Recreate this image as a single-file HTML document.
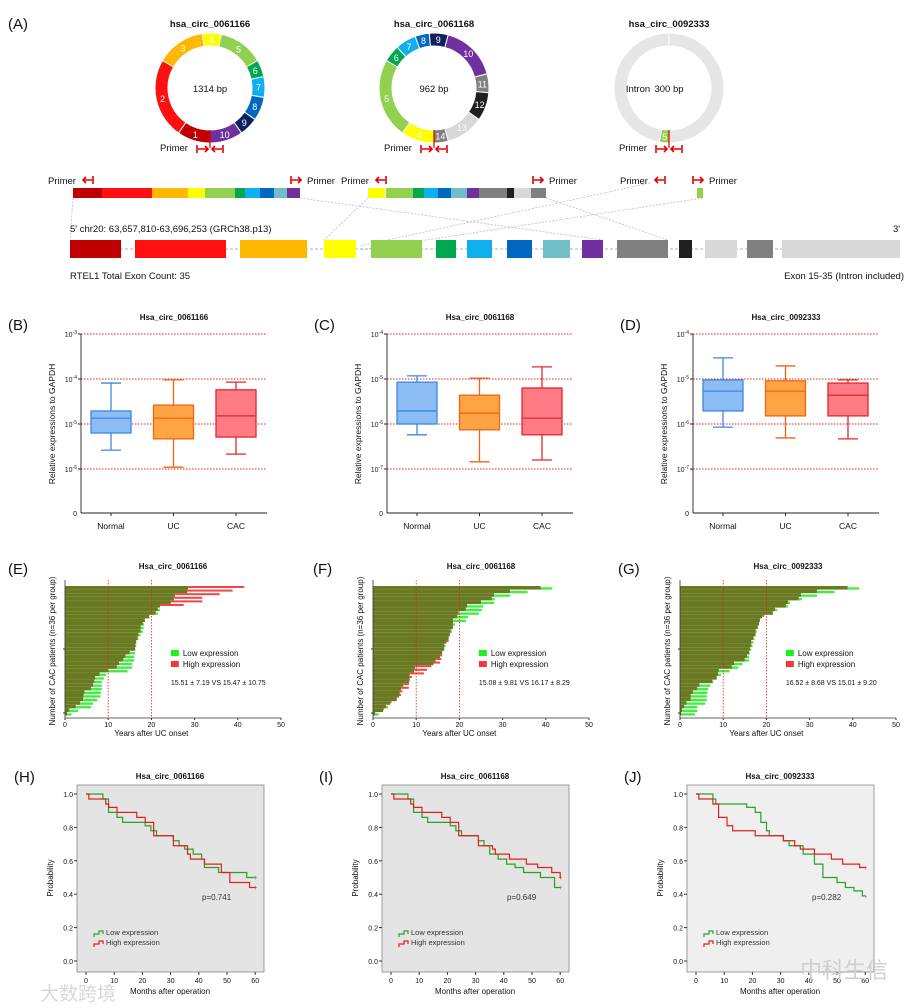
<!DOCTYPE html>
<html><head><meta charset="utf-8"><style>
body{margin:0;background:#fff;}
svg{display:block;font-family:"Liberation Sans","Noto Sans CJK SC",sans-serif;}
</style></head><body>
<svg id="fig" width="916" height="1008" viewBox="0 0 916 1008" xmlns="http://www.w3.org/2000/svg"></svg>
<script>
// ---------- Panel B-D data (log10 values: whiskerHigh, Q3, median, Q1, whiskerLow) ----------
const boxCategories = ["Normal","UC","CAC"];
const boxTitles = ["Hsa_circ_0061166","Hsa_circ_0061168","Hsa_circ_0092333"];
const boxTopExp = [-3,-4,-4];
const boxB_Normal = [-4.09,-4.71,-4.87,-5.2,-5.58];
const boxB_UC = [-4.02,-4.58,-4.87,-5.33,-5.96];
const boxB_CAC = [-4.07,-4.24,-4.82,-5.29,-5.67];
const boxC_Normal = [-4.93,-5.07,-5.71,-6.0,-6.24];
const boxC_UC = [-4.98,-5.36,-5.76,-6.13,-6.84];
const boxC_CAC = [-4.73,-5.2,-5.87,-6.24,-6.8];
const boxD_Normal = [-4.53,-5.02,-5.27,-5.71,-6.07];
const boxD_UC = [-4.71,-5.04,-5.27,-5.82,-6.31];
const boxD_CAC = [-5.02,-5.09,-5.36,-5.82,-6.33];
// ---------- Panel E-G data (years, sorted) ----------
const barXTicks = [0,10,20,30,40,50];
const eLow = [28.5,28.3,25.5,25.2,24.5,22,22,21.5,19.5,18.5,18.3,18.2,18,17.5,17,16.5,16.5,16.3,16.2,16,16,15.5,15.5,14.5,9.5,9,8.5,8.5,8.5,8.3,8.2,7.5,6.5,6,3,1.5];
const eHigh = [41.5,38.8,35.8,31.8,31.8,27.5,21.5,21,19.5,18.5,18,17.5,17.5,17,16.8,16.5,16.3,16.2,15,14,13.5,12.5,12,10,8,7,6.8,6.5,6,4.5,4.3,4.2,3.5,2.5,1,0.5];
const fLow = [41.5,35.8,31.7,28.2,28,25.5,25.2,24.5,22,21.5,19,18.5,18.3,17.8,17.5,17,16.8,16.5,16,15.5,14.5,14,9.7,9.5,8.5,8.5,8.3,7,6.5,6.2,6,5.5,4,3.5,2.3,1.3];
const fHigh = [38.8,31.7,28,27.5,25,21.8,21.5,19.8,19.5,18.5,18.5,18.5,18,17.8,17.5,17.5,16.5,16.5,16,16,15.8,15.5,13.5,12.5,11.8,9,8.5,8.3,8.3,6.8,6.5,5.5,4.3,3,2.5,0.5];
const gLow = [41.5,35.8,31.7,28.2,25.5,25,22.5,21.5,19,18.5,18.3,18,17.8,17.5,17.2,17,16.8,16.5,16.2,16,16,14.5,13.5,11.5,9.5,8.5,7.7,7,6.5,6.3,6.2,6.2,5.8,4,4,3.5];
const gHigh = [38.8,31.7,28,27.5,25,24.5,22,21.5,19.5,18.5,18.3,18,17.5,17.5,17,16.5,16.5,16.2,16,15.5,15,12.5,12,9,8.8,8.5,7.5,4.5,4,3,2.5,2.5,1.5,1,0.5,0.3];
const barStats = ["15.51 ± 7.19 VS 15.47 ± 10.75","15.08 ± 9.81 VS 16.17 ± 8.29","16.52 ± 8.68 VS 15.01 ± 9.20"];
// ---------- Panel H-J data (Kaplan-Meier steps) ----------
const kmXTicks = [0,10,20,30,40,50,60];
const kmYTicks = [0,0.2,0.4,0.6,0.8,1.0];
const hLowT = [0,6,8,11,13,21,23,25,31,33,35,38,41,42,47,57,60];
const hLowS = [1,0.97,0.89,0.86,0.83,0.81,0.78,0.75,0.72,0.69,0.67,0.64,0.61,0.56,0.53,0.5,0.5];
const hHighT = [0,1,7,8,11,18,21,24,31,36,37,42,48,51,58,60];
const hHighS = [1,0.97,0.94,0.92,0.89,0.86,0.83,0.75,0.69,0.64,0.61,0.58,0.53,0.47,0.44,0.44];
const iLowT = [0,6,8,11,13,21,23,25,31,33,35,38,41,44,47,53,58,60];
const iLowS = [1,0.97,0.89,0.86,0.83,0.81,0.78,0.75,0.72,0.69,0.64,0.61,0.58,0.56,0.53,0.5,0.44,0.44];
const iHighT = [0,1,7,8,11,18,21,24,31,36,37,42,48,52,57,60];
const iHighS = [1,0.97,0.94,0.92,0.89,0.86,0.83,0.75,0.69,0.67,0.64,0.61,0.58,0.56,0.53,0.5];
const jLowT = [0,6,7,18,21,23,25,26,31,33,38,42,45,50,53,56,59,60];
const jLowS = [1,0.97,0.94,0.92,0.89,0.83,0.78,0.75,0.72,0.69,0.64,0.58,0.5,0.47,0.44,0.42,0.39,0.39];
const jHighT = [0,1,6,8,11,13,21,31,35,37,42,48,52,58,60];
const jHighS = [1,0.97,0.94,0.86,0.81,0.78,0.75,0.72,0.69,0.67,0.64,0.61,0.58,0.56,0.56];
const kmP = ["p=0.741","p=0.649","p=0.282"];

const NS="http://www.w3.org/2000/svg";
const svg=document.getElementById('fig');
function add(parent,tag,attrs,name,inter){
  const el=document.createElementNS(NS,tag);
  for(const k in attrs) el.setAttribute(k,attrs[k]);
  
  
  parent.appendChild(el);return el;
}
function txt(parent,x,y,s,size,name,extra){
  const a=Object.assign({x:x,y:y,'font-size':size,fill:'#111'},extra||{});
  const t=add(parent,'text',a,name);t.textContent=s;return t;
}
// ---------- Panel A ----------
txt(svg,8,29,"(A)",15,"panel-label-a");
const C={dr:'#c00000',r:'#ff1010',o:'#ffb800',y:'#ffff00',g:'#92d050',dg:'#00a850',sk:'#10b0f0',b:'#0068c0',nv:'#102060',pu:'#7030a0',gr:'#808080',bk:'#202020',lg:'#d8d8d8',tl:'#70bec8',xl:'#e6e6e6'};
function arc(cx,cy,R,r,a1,a2){
  const p=(a,rad)=>[cx+rad*Math.sin(a*Math.PI/180),cy-rad*Math.cos(a*Math.PI/180)];
  const L=(a2-a1)>180?1:0;
  const [x1,y1]=p(a1,R),[x2,y2]=p(a2,R),[x3,y3]=p(a2,r),[x4,y4]=p(a1,r);
  return `M${x1},${y1}A${R},${R} 0 ${L} 1 ${x2},${y2}L${x3},${y3}A${r},${r} 0 ${L} 0 ${x4},${y4}Z`;
}
const rings=[
 {cx:210,cy:88,title:"hsa_circ_0061166",center:"1314 bp",segs:[[-8,12,'y','4'],[12,60,'g','5'],[60,78,'dg','6'],[78,100,'sk','7'],[100,125,'b','8'],[125,145,'nv','9'],[145,180,'pu','10'],[180,215,'dr','1'],[215,300,'r','2'],[300,352,'o','3']]},
 {cx:434,cy:88,title:"hsa_circ_0061168",center:"962 bp",segs:[[-5,15,'nv','9'],[15,75,'pu','10'],[75,95,'gr','11'],[95,125,'bk','12'],[125,165,'lg','13'],[165,180,'gr','14'],[180,215,'y','4'],[215,300,'g','5'],[300,318,'dg','6'],[318,340,'sk','7'],[340,355,'b','8']]},
 {cx:669,cy:88,title:"hsa_circ_0092333",center:"300 bp",segs:[[0,180,'xl',''],[190,360,'xl',''],[180,190,'g','5']]}
];
rings.forEach((R,i)=>{
  const g=add(svg,'g',{},'circrna-diagram-'+(i+1));
  txt(g,R.cx,27,R.title,9.5,'circrna-title',{'text-anchor':'middle','font-weight':'bold'});
  R.segs.forEach(s=>{
    add(g,'path',{d:arc(R.cx,R.cy,55,42,s[0],s[1]),fill:C[s[2]],stroke:'#fff','stroke-width':1},'exon-segment-'+(s[3]||'intron'));
    if(s[3]){const m=(s[0]+s[1])/2*Math.PI/180;
      txt(g,R.cx+48.5*Math.sin(m),R.cy-48.5*Math.cos(m)+3.5,s[3],9,'exon-number',{'text-anchor':'middle',fill:'#fff'});}
  });
  txt(g,R.cx,R.cy+4,R.center,9.5,'circrna-length',{'text-anchor':'middle'});
  if(i==2) txt(g,R.cx-31,R.cy+4,"Intron",9.5,'intron-label',{'text-anchor':'middle'});
  add(g,'line',{x1:R.cx,y1:130,x2:R.cx,y2:148,stroke:'#e00000','stroke-width':1.2},'junction-line');
  txt(g,R.cx-50,151,"Primer",9.5,'primer-label');
  add(g,'path',{d:`M${R.cx-13},145v8M${R.cx-12},149h10m-3,-3l3,3l-3,3M${R.cx+13},145v8M${R.cx+12},149h-10m3,-3l-3,3l3,3`,stroke:'#e00000','stroke-width':1.6,fill:'none'},'primer-arrows');
});
// linear transcripts
const linBars=[
 [[73,102,'dr'],[102,152,'r'],[152,188,'o'],[188,205,'y'],[205,235,'g'],[235,245,'dg'],[245,260,'sk'],[260,274,'b'],[274,287,'tl'],[287,300,'pu']],
 [[368,385,'y'],[386,413,'g'],[413,424,'dg'],[424,438,'sk'],[438,451,'b'],[451,467,'tl'],[467,479,'pu'],[479,507,'gr'],[507,514,'bk'],[514,531,'lg'],[531,546,'gr']],
 [[697,703,'g']]
];
const conn=[[73,198,70,240],[300,198,603,240],[368,198,324,240],[546,198,668,240],[650,183,360,246],[703,198,360,250]];
conn.forEach(c=>add(svg,'line',{x1:c[0],y1:c[1],x2:c[2],y2:c[3],stroke:'#b8b8e8','stroke-width':0.8,'stroke-dasharray':'2,1.5'},'connector-line'));
linBars.forEach((b,i)=>{b.forEach(s=>add(svg,'rect',{x:s[0],y:188,width:s[1]-s[0],height:10,fill:C[s[2]]},'linear-exon'));});
const primers=[[48,"L"],[307,"R"],[341,"L"],[549,"R"],[620,"L"],[709,"R"]];
primers.forEach(p=>{
  if(p[1]=="L"){txt(svg,p[0],184,"Primer",9.5,'primer-label');
    add(svg,'path',{d:`M${p[0]+45},176v8M${p[0]+44},180h-9m3,-3l-3,3l3,3`,stroke:'#e00000','stroke-width':1.6,fill:'none'},'primer-arrow');}
  else{txt(svg,p[0],184,"Primer",9.5,'primer-label');
    add(svg,'path',{d:`M${p[0]-16},176v8M${p[0]-15},180h9m-3,-3l3,3l-3,3`,stroke:'#e00000','stroke-width':1.6,fill:'none'},'primer-arrow');}
});
// genome
txt(svg,70,232,"5'   chr20: 63,657,810-63,696,253 (GRCh38.p13)",9.5,'genome-coordinates');
txt(svg,893,232,"3'",9.5,'three-prime-label');
add(svg,'line',{x1:70,y1:249,x2:900,y2:249,stroke:'#999','stroke-width':0.8,'stroke-dasharray':'3,2'},'intron-line');
const exons=[[70,121,'dr'],[135,226,'r'],[240,307,'o'],[324,356,'y'],[371,422,'g'],[436,456,'dg'],[467,492,'sk'],[507,532,'b'],[543,570,'tl'],[582,603,'pu'],[617,668,'gr'],[679,692,'bk'],[705,737,'lg'],[747,773,'gr'],[782,900,'lg']];
exons.forEach((e,i)=>add(svg,'rect',{x:e[0],y:240,width:e[1]-e[0],height:18,fill:C[e[2]]},'genome-exon-'+(i+1)));
txt(svg,70,279,"RTEL1  Total Exon Count: 35",9.5,'gene-label');
txt(svg,904,279,"Exon 15-35 (Intron included)",9.5,'exon-range-label',{'text-anchor':'end'});

// ---------- Panels B-D ----------
const boxData=[[boxB_Normal,boxB_UC,boxB_CAC],[boxC_Normal,boxC_UC,boxC_CAC],[boxD_Normal,boxD_UC,boxD_CAC]];
const boxFill=['#8cbcf4','#ffa444','#ff7c84'],boxStroke=['#3c88e0','#f06414','#e8242c'];
["(B)","(C)","(D)"].forEach((lab,pi)=>{
  const ox=pi*306, top=334, dec=45, x0=81+ox, x1=267+ox;
  const g=add(svg,'g',{},'box-panel-'+lab[1].toLowerCase());
  txt(g,8+ox,330,lab,15,'panel-label');
  txt(g,174+ox,320,boxTitles[pi],8,'chart-title',{'text-anchor':'middle','font-weight':'bold'});
  const Y=v=>top+(boxTopExp[pi]-v)*dec;
  for(let k=0;k<4;k++){
    const yy=top+k*dec;
    add(g,'line',{x1:x0,y1:yy,x2:x1,y2:yy,stroke:'#e02020','stroke-width':0.9,'stroke-dasharray':'1.5,1.5'},'gridline');
    const t=add(g,'text',{x:x0-4,y:yy+3,'font-size':7,'text-anchor':'end',fill:'#222'},'y-tick-label');
    t.innerHTML='10<tspan dy="-3" font-size="5">'+(boxTopExp[pi]-k)+'</tspan>';
    add(g,'line',{x1:x0-3,y1:yy,x2:x0,y2:yy,stroke:'#222'},'y-tick');
  }
  txt(g,x0-4,top+182,"0",7,'y-tick-label',{'text-anchor':'end'});
  add(g,'line',{x1:x0,y1:top,x2:x0,y2:top+179,stroke:'#222','stroke-width':0.9},'y-axis');
  add(g,'line',{x1:x0,y1:top+179,x2:x1,y2:top+179,stroke:'#222','stroke-width':0.9},'x-axis');
  txt(g,0,0,"Relative expressions to GAPDH",8.5,'y-axis-title',{transform:`translate(${55+ox},424) rotate(-90)`,'text-anchor':'middle'});
  boxCategories.forEach((c,ci)=>{
    const cx=111+ox+ci*62.5, d=boxData[pi][ci], w=20;
    add(g,'line',{x1:cx,y1:top+179,x2:cx,y2:top+182,stroke:'#222'},'x-tick');
    txt(g,cx,top+195,c,8.5,'x-tick-label',{'text-anchor':'middle'});
    add(g,'path',{d:`M${cx},${Y(d[0])}V${Y(d[1])}M${cx},${Y(d[3])}V${Y(d[4])}M${cx-10},${Y(d[0])}h20M${cx-10},${Y(d[4])}h20`,stroke:boxStroke[ci],'stroke-width':1.3,fill:'none'},'whisker-'+c.toLowerCase());
    add(g,'rect',{x:cx-w,y:Y(d[1]),width:2*w,height:Y(d[3])-Y(d[1]),fill:boxFill[ci],stroke:boxStroke[ci],'stroke-width':1.3},'box-'+c.toLowerCase());
    add(g,'line',{x1:cx-w,y1:Y(d[2]),x2:cx+w,y2:Y(d[2]),stroke:boxStroke[ci],'stroke-width':1.3},'median-'+c.toLowerCase());
  });
});

// ---------- Panels E-G ----------
const barLow=[eLow,fLow,gLow],barHigh=[eHigh,fHigh,gHigh];
["(E)","(F)","(G)"].forEach((lab,pi)=>{
  const x0=[65,373,680][pi], sc=4.32, yTop=586, rh=3.6, yAx=718, ox=[0,305,610][pi];
  const g=add(svg,'g',{},'bar-panel-'+lab[1].toLowerCase());
  txt(g,8+ox,574,lab,15,'panel-label');
  txt(g,x0+108,569,boxTitles[pi],8,'chart-title',{'text-anchor':'middle','font-weight':'bold'});
  const X=v=>x0+v*sc;
  barLow[pi].forEach((lo,i)=>{
    const hi=barHigh[pi][i], y=yTop+i*rh, mn=Math.min(lo,hi);
    if(hi>lo) add(g,'rect',{x:X(mn),y:y,width:X(hi)-X(mn),height:rh*0.55,fill:'#ee4646'},'bar-high');
    else add(g,'rect',{x:X(mn),y:y+rh*0.35,width:X(lo)-X(mn),height:rh*0.65,fill:'#3cf03c'},'bar-low');
    add(g,'rect',{x:x0,y:y,width:X(mn)-x0,height:rh,fill:'#6a7a22'},'bar-overlap');
  });
  [10,20].forEach(v=>add(g,'line',{x1:X(v),y1:yTop-6,x2:X(v),y2:yAx,stroke:'#e02020','stroke-width':0.8,'stroke-dasharray':'1.5,1.5'},'reference-line'));
  add(g,'line',{x1:x0,y1:yTop-6,x2:x0,y2:yAx,stroke:'#333','stroke-width':0.8},'y-axis');
  add(g,'line',{x1:x0,y1:yAx,x2:X(50),y2:yAx,stroke:'#333','stroke-width':0.8},'x-axis');
  add(g,'line',{x1:x0-2,y1:649,x2:x0,y2:649,stroke:'#333'},'y-tick');
  add(g,'line',{x1:x0-2,y1:713,x2:x0,y2:713,stroke:'#333'},'y-tick');
  barXTicks.forEach(v=>{add(g,'line',{x1:X(v),y1:yAx,x2:X(v),y2:yAx+2,stroke:'#333'},'x-tick');
    txt(g,X(v),yAx+9,String(v),7,'x-tick-label',{'text-anchor':'middle'});});
  txt(g,X(20),736,"Years after UC onset",8,'x-axis-title',{'text-anchor':'middle'});
  txt(g,0,0,"Number of CAC patients (n=36 per group)",8,'y-axis-title',{transform:`translate(${x0-10},651) rotate(-90)`,'text-anchor':'middle'});
  add(g,'rect',{x:X(24.5),y:650,width:8,height:6,fill:'#1ef01e'},'legend-swatch-low');
  txt(g,X(24.5)+12,656,"Low expression",8,'legend-low');
  add(g,'rect',{x:X(24.5),y:661,width:8,height:6,fill:'#ee3a3a'},'legend-swatch-high');
  txt(g,X(24.5)+12,667,"High expression",8,'legend-high');
  txt(g,X(24.5),685,barStats[pi],7,'stats-text');
});

// ---------- Panels H-J ----------
const kmLow=[[hLowT,hLowS],[iLowT,iLowS],[jLowT,jLowS]],kmHigh=[[hHighT,hHighS],[iHighT,iHighS],[jHighT,jHighS]];
["(H)","(I)","(J)"].forEach((lab,pi)=>{
  const ox=[0,305,610][pi], rx=77+ox, x0=86+ox, sc=2.82, y1=794, y0=961;
  const g=add(svg,'g',{},'km-panel-'+lab[1].toLowerCase());
  txt(g,14+ox,782,lab,15,'panel-label');
  txt(g,rx+93,779,boxTitles[pi],8,'chart-title',{'text-anchor':'middle','font-weight':'bold'});
  add(g,'rect',{x:rx,y:785,width:187,height:187,fill:pi==2?'#efefef':'#e4e4e4',stroke:'#888','stroke-width':0.8},'plot-area');
  const X=v=>x0+v*sc, Y=v=>y0-(y0-y1)*v;
  kmYTicks.forEach(v=>{add(g,'line',{x1:rx-3,y1:Y(v),x2:rx,y2:Y(v),stroke:'#333'},'y-tick');
    txt(g,rx-4,Y(v)+3,v.toFixed(1),7,'y-tick-label',{'text-anchor':'end'});});
  kmXTicks.forEach(v=>{add(g,'line',{x1:X(v),y1:972,x2:X(v),y2:975,stroke:'#333'},'x-tick');
    txt(g,X(v),983,String(v),7,'x-tick-label',{'text-anchor':'middle'});});
  txt(g,rx+93,994,"Months after operation",8,'x-axis-title',{'text-anchor':'middle'});
  txt(g,0,0,"Probability",8,'y-axis-title',{transform:`translate(${rx-24},878) rotate(-90)`,'text-anchor':'middle'});
  [[kmLow[pi],'#2aa02a','low'],[kmHigh[pi],'#e02020','high']].forEach(([d,col,n])=>{
    const T=d[0],S=d[1];let p=`M${X(T[0])},${Y(S[0])}`;
    for(let i=1;i<T.length;i++){p+=`H${X(T[i])}V${Y(S[i])}`;}
    add(g,'path',{d:p,stroke:col,'stroke-width':1.2,fill:'none'},'km-curve-'+n);
    add(g,'text',{x:X(T[T.length-1])-2,y:Y(S[S.length-1])+2.5,'font-size':7,fill:col},'censor-mark').textContent='+';
  });
  txt(g,rx+125,900,kmP[pi],8,'p-value',{fill:'#333'});
  add(g,'path',{d:`M${rx+17},937v-3h5v-3h4v3`,stroke:'#2aa02a','stroke-width':1.2,fill:'none'},'legend-line-low');
  txt(g,rx+29,935,"Low expression",7.5,'legend-low',{fill:'#333'});
  add(g,'path',{d:`M${rx+17},947v-3h5v-3h4v3`,stroke:'#e02020','stroke-width':1.2,fill:'none'},'legend-line-high');
  txt(g,rx+29,945,"High expression",7.5,'legend-high',{fill:'#333'});
});
txt(svg,40,1000,"大数跨境",19,'watermark-left',{fill:'#d8d8d8'});
txt(svg,800,978,"中科生信",22,'watermark-right',{fill:'#cfcfcf'});
</script>
</body></html>
